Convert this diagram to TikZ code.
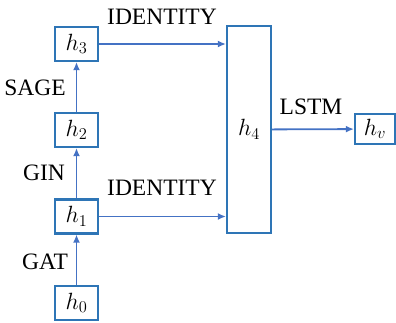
\RequirePackage{fix-cm}
\documentclass[tikz,border=0pt]{standalone}
\usepackage{fontspec}
\setmainfont{Liberation Serif}
\usetikzlibrary{arrows.meta}
\definecolor{boxblue}{RGB}{46,117,182}
\definecolor{arrowblue}{RGB}{68,114,196}
\tikzset{
  hbox/.style={draw=boxblue, line width=2.2pt, minimum width=43pt, minimum height=34pt, inner sep=0pt},
  link/.style={-{Latex[length=8pt,width=7pt]}, draw=arrowblue, line width=1.8pt},
  lbl/.style={inner sep=0pt}
}
\begin{document}
\begin{tikzpicture}[x=1pt,y=1pt,font=\fontsize{23.5}{28}\selectfont]
  \useasboundingbox (0,0) rectangle (396,322);
  % layer states
  \foreach \i/\y in {0/19,1/105.5,2/192,3/278}
    \node[hbox] (h\i) at (76.5,\y) {$h_\i$};
  \node[hbox, minimum width=44pt, minimum height=207pt] (h4) at (249,192.5) {$h_4$};
  \node[hbox, minimum width=40pt, minimum height=30pt] (hv) at (375,193) {$h_v$};
  % connectors
  \draw[link] (h0) -- (h1);
  \draw[link] (h1) -- (h2);
  \draw[link] (h2) -- (h3);
  \draw[link] (h3) -- (h3 -| h4.west);
  \draw[link] (h1) -- (h1 -| h4.west);
  \draw[link] (h4) -- (hv);
  % labels
  \node[lbl] (gat) at (45,60) {GAT};
  \node[lbl] (gin) at (44,149) {GIN};
  \node[lbl] (sage) at (35,234) {SAGE};
  \node[lbl] (idtop) at (162,305) {IDENTITY};
  \node[lbl] (idbot) at (162,134) {IDENTITY};
  \node[lbl] (lstm) at (311,215) {LSTM};
\end{tikzpicture}
\end{document}
